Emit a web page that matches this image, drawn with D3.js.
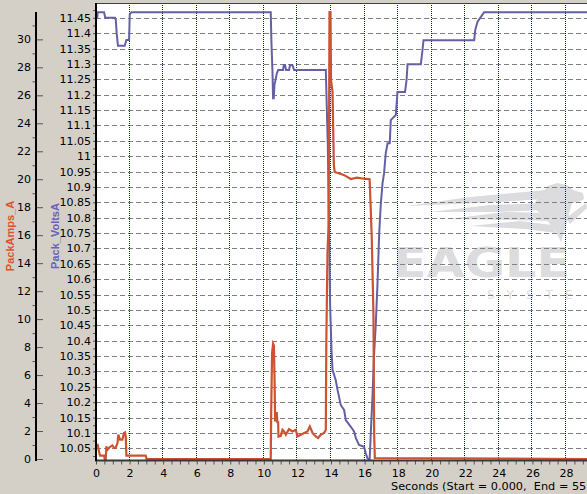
<!DOCTYPE html>
<html>
<head>
<meta charset="utf-8">
<script src="https://cdnjs.cloudflare.com/ajax/libs/d3/7.8.5/d3.min.js"></script>
<style>
    html, body { margin: 0; padding: 0; background: #d4d0c8; overflow: hidden; }
    #pack-chart svg { display: block; }
</style>
</head>
<body>
<div id="pack-chart"></div>
<script>

var voltsTime = [0, 0.08, 0.10, 0.48, 0.55, 1.13, 1.18, 1.23, 1.31, 1.71,
    1.76, 1.81, 1.97, 2.01, 2.11, 10.41, 10.45, 10.51, 10.55, 10.59,
    10.63, 10.77, 10.85, 11.14, 11.19, 11.26, 11.32, 11.50, 11.56, 11.70,
    11.80, 13.69, 13.75, 13.81, 13.95, 14.03, 14.09, 14.28, 14.39, 14.58,
    14.78, 14.88, 15.18, 15.38, 15.48, 15.67, 15.97, 16.07, 16.17, 16.30,
    16.37, 16.47, 16.57, 16.67, 16.77, 16.87, 16.97, 17.07, 17.16, 17.26,
    17.37, 17.50, 17.56, 17.66, 17.86, 17.96, 18.41, 18.50, 18.56, 19.35,
    19.45, 19.51, 22.53, 22.59, 22.73, 22.93, 23.12, 29.25];
var voltsValue = [11.450, 11.450, 11.468, 11.468, 11.450, 11.450, 11.443, 11.400, 11.359, 11.359,
    11.369, 11.378, 11.378, 11.461, 11.468, 11.468, 11.372, 11.280, 11.188, 11.188,
    11.231, 11.269, 11.280, 11.280, 11.296, 11.296, 11.280, 11.280, 11.296, 11.296,
    11.280, 11.280, 11.156, 11.036, 10.510, 10.370, 10.305, 10.272, 10.240, 10.191,
    10.175, 10.142, 10.120, 10.104, 10.083, 10.061, 10.055, 10.034, 10.018, 10.012,
    10.099, 10.218, 10.359, 10.456, 10.587, 10.749, 10.847, 10.912, 10.944, 11.009,
    11.042, 11.042, 11.117, 11.123, 11.134, 11.209, 11.209, 11.247, 11.299, 11.299,
    11.345, 11.377, 11.377, 11.410, 11.437, 11.453, 11.468, 11.468];

var ampsTime = [0, 0.10, 0.18, 0.24, 0.48, 0.52, 0.58, 0.62, 0.68, 0.77,
    0.88, 0.98, 1.07, 1.17, 1.28, 1.33, 1.43, 1.57, 1.67, 1.73,
    1.77, 1.81, 2.96, 3.02, 10.41, 10.44, 10.49, 10.55, 10.60, 10.64,
    10.67, 10.71, 10.77, 10.81, 10.85, 10.87, 11.01, 11.11, 11.20, 11.31,
    11.50, 11.70, 11.90, 12.00, 12.20, 12.40, 12.60, 12.74, 12.90, 13.09,
    13.23, 13.39, 13.59, 13.69, 13.72, 13.79, 13.85, 13.88, 13.91, 13.97,
    14.00, 14.09, 14.17, 14.22, 14.76, 15.18, 15.54, 16.07, 16.30, 16.37,
    16.43, 16.53, 16.57, 16.61, 29.25];
var ampsValue = [1.02, 1.02, 0.54, 0.24, 0.24, 0, 0, 0.90, 0.66, 0.79,
    0.90, 0.97, 0.79, 0.79, 1.14, 1.74, 1.38, 1.38, 1.86, 1.90,
    1.61, 0.24, 0.24, 0, 0, 3.76, 7.57, 8.24, 8.10, 5.43,
    2.69, 3.29, 3.29, 2.57, 2.69, 1.61, 1.66, 2.09, 1.97, 1.74,
    2.14, 1.97, 2.09, 1.61, 1.74, 1.86, 1.97, 2.33, 1.86, 1.61,
    1.50, 1.74, 1.86, 2.09, 8.29, 14.71, 16.61, 22.1, 31.95, 31.95,
    27.09, 26.26, 21.0, 20.52, 20.31, 20.02, 20.11, 20.02, 20.0, 17.8,
    15.7, 10.2, 1.86, 0.07, 0];

// Tick labels
var secondLabels = [0, 2, 4, 6, 8, 10, 12, 14, 16, 18, 20, 22, 24, 26, 28];
var ampLabels = [0, 2, 4, 6, 8, 10, 12, 14, 16, 18, 20, 22, 24, 26, 28, 30];
var voltLabels = [10.05, 10.1, 10.15, 10.2, 10.25, 10.3, 10.35, 10.4, 10.45, 10.5,
    10.55, 10.6, 10.65, 10.7, 10.75, 10.8, 10.85, 10.9, 10.95, 11,
    11.05, 11.1, 11.15, 11.2, 11.25, 11.3, 11.35, 11.4, 11.45];

var ampsColor = "#cc5230";
var voltsColor = "#6560a4";
var tickFont = "'DejaVu Sans', Verdana, sans-serif";


PackChartVis = function(_parentElement) {
    this.parentElement = _parentElement;

    this.voltsData = voltsTime.map(function(t, i) { return {t: t, v: voltsValue[i]}; });
    this.ampsData = ampsTime.map(function(t, i) { return {t: t, v: ampsValue[i]}; });

    this.initVis();
};

PackChartVis.prototype.initVis = function() {
    var vis = this;

    // plot box sits at the right, both y axes live in the left margin
    vis.margin = {top: 3, right: 0, bottom: 34, left: 96};
    vis.width = 587 - vis.margin.left - vis.margin.right;
    vis.height = 494 - vis.margin.top - vis.margin.bottom;

    vis.root = d3.select("#" + vis.parentElement).append("svg")
        .attr("width", 587)
        .attr("height", 494)
        .style("background", "#d4d0c8");

    vis.svg = vis.root.append("g")
        .attr("transform", "translate(" + vis.margin.left + "," + vis.margin.top + ")");

    vis.svg.append("clipPath")
        .attr("id", "plot-clip")
        .append("rect")
        .attr("width", vis.width)
        .attr("height", vis.height);

    // Scales
    vis.x = d3.scaleLinear().domain([0, 29.25]).range([0, vis.width]);
    vis.yVolts = d3.scaleLinear().domain([10.012, 11.498]).range([vis.height, 0]);
    vis.yAmps = d3.scaleLinear().domain([0, 32.6]).range([vis.height - 1, 0]);

    // White plot area
    vis.svg.append("rect")
        .attr("width", vis.width)
        .attr("height", vis.height)
        .attr("fill", "#ffffff");

    vis.plot = vis.svg.append("g").attr("clip-path", "url(#plot-clip)");

    vis.drawWatermark();

    // Grid
    vis.plot.append("g")
        .attr("class", "grid-h")
        .selectAll("line")
        .data(voltLabels)
        .enter().append("line")
        .attr("x1", 0)
        .attr("x2", vis.width)
        .attr("y1", function(d) { return Math.round(vis.yVolts(d)) + 0.5; })
        .attr("y2", function(d) { return Math.round(vis.yVolts(d)) + 0.5; })
        .attr("stroke", "#808080")
        .attr("stroke-dasharray", "5,3");

    vis.plot.append("g")
        .attr("class", "grid-v")
        .selectAll("line")
        .data(secondLabels.slice(1))
        .enter().append("line")
        .attr("x1", function(d) { return Math.round(vis.x(d)) - 0.5; })
        .attr("x2", function(d) { return Math.round(vis.x(d)) - 0.5; })
        .attr("y1", 0)
        .attr("y2", vis.height)
        .attr("stroke", "#0000ff")
        .attr("stroke-dasharray", "1,1");

    // Lines
    vis.voltsLine = d3.line()
        .x(function(d) { return vis.x(d.t); })
        .y(function(d) { return vis.yVolts(d.v); })
        .curve(d3.curveLinear);
    vis.ampsLine = d3.line()
        .x(function(d) { return vis.x(d.t); })
        .y(function(d) { return vis.yAmps(d.v); })
        .curve(d3.curveLinear);

    vis.plot.append("path")
        .datum(vis.voltsData)
        .attr("d", vis.voltsLine)
        .attr("fill", "none")
        .attr("stroke", voltsColor)
        .attr("stroke-width", 2);

    vis.plot.append("path")
        .datum(vis.ampsData)
        .attr("d", vis.ampsLine)
        .attr("fill", "none")
        .attr("stroke", ampsColor)
        .attr("stroke-width", 2.2);

    // Frame
    vis.svg.append("line")
        .attr("x1", 0).attr("x2", vis.width)
        .attr("y1", 0.5).attr("y2", 0.5)
        .attr("stroke", "#404040");

    vis.drawAxes();
};

PackChartVis.prototype.drawAxes = function() {
    var vis = this;

    // x axis - small tick every half second, label every two
    vis.xAxis = d3.axisBottom(vis.x)
        .tickValues(d3.range(0, 29.5, 0.5))
        .tickSize(4)
        .tickPadding(5)
        .tickFormat(function(d) { return secondLabels.indexOf(d) >= 0 ? d : ""; });
    vis.xAxisGroup = vis.svg.append("g")
        .attr("class", "x-axis axis")
        .attr("transform", "translate(0," + (vis.height + 0.5) + ")")
        .call(vis.xAxis);
    vis.xAxisGroup.select(".domain").remove();
    vis.xAxisGroup.selectAll(".tick line").attr("stroke", "#555");

    vis.svg.append("line")
        .attr("x1", -1).attr("x2", vis.width)
        .attr("y1", vis.height + 0.5).attr("y2", vis.height + 0.5)
        .attr("stroke", "#383838")
        .attr("stroke-width", 2);

    // the window only shows the start of this caption
    vis.svg.append("text")
        .attr("class", "axis-label x-axis-label")
        .attr("x", 391 - vis.margin.left)
        .attr("y", 490 - vis.margin.top)
        .attr("xml:space", "preserve")
        .style("white-space", "pre")
        .style("font-family", tickFont)
        .style("font-size", "11.3px")
        .attr("fill", "#000")
        .text("Seconds (Start = 0.000,  End = 55");

    // volts axis on the plot edge
    vis.yVoltsMinor = d3.axisLeft(vis.yVolts)
        .tickValues(voltLabels.map(function(d) { return d + 0.025; }).concat([10.025]))
        .tickSize(3)
        .tickFormat("");
    vis.yVoltsAxis = d3.axisLeft(vis.yVolts)
        .tickValues(voltLabels)
        .tickSize(3)
        .tickPadding(2)
        .tickFormat(d3.format("~g"));

    vis.svg.append("g").attr("class", "y-axis volts minor").call(vis.yVoltsMinor)
        .select(".domain").remove();
    vis.yVoltsGroup = vis.svg.append("g").attr("class", "y-axis volts").call(vis.yVoltsAxis);
    vis.yVoltsGroup.select(".domain").remove();

    vis.svg.append("line")
        .attr("x1", 0).attr("x2", 0)
        .attr("y1", 0).attr("y2", vis.height + 1)
        .attr("stroke", "#000")
        .attr("stroke-width", 2);

    // amps axis further left, major ticks point right
    vis.ampsOffset = 36 - vis.margin.left;
    vis.yAmpsMinor = d3.axisLeft(vis.yAmps)
        .tickValues(d3.range(1, 33, 2))
        .tickSize(3.5)
        .tickFormat("");
    vis.yAmpsAxis = d3.axisLeft(vis.yAmps)
        .tickValues(ampLabels)
        .tickSizeInner(-7)
        .tickSizeOuter(0)
        .tickPadding(5);

    vis.svg.append("g").attr("class", "y-axis amps minor")
        .attr("transform", "translate(" + vis.ampsOffset + ",0)")
        .call(vis.yAmpsMinor)
        .select(".domain").remove();
    vis.yAmpsGroup = vis.svg.append("g").attr("class", "y-axis amps")
        .attr("transform", "translate(" + vis.ampsOffset + ",0)")
        .call(vis.yAmpsAxis);
    vis.yAmpsGroup.select(".domain").remove();

    vis.svg.append("line")
        .attr("x1", vis.ampsOffset).attr("x2", vis.ampsOffset)
        .attr("y1", 9).attr("y2", vis.height + 1)
        .attr("stroke", "#000")
        .attr("stroke-width", 2);

    vis.svg.selectAll(".axis, .y-axis")
        .attr("font-family", tickFont)
        .attr("font-size", 11)
        .style("color", "#000");
    vis.svg.selectAll(".minor .tick line, .y-axis .tick line").attr("stroke", "#555");

    // axis titles
    vis.svg.append("text")
        .attr("class", "axis-label")
        .attr("transform", "translate(" + (13.5 - vis.margin.left) + "," + (236 - vis.margin.top) + ") rotate(-90)")
        .style("text-anchor", "middle")
        .style("font-family", "'Liberation Sans', Arial, sans-serif")
        .style("font-weight", "bold")
        .style("font-size", "11px")
        .attr("fill", "#d9562c")
        .text("PackAmps_A");

    vis.svg.append("text")
        .attr("class", "axis-label")
        .attr("transform", "translate(" + (58.5 - vis.margin.left) + "," + (236 - vis.margin.top) + ") rotate(-90)")
        .style("text-anchor", "middle")
        .style("font-family", "'Liberation Sans', Arial, sans-serif")
        .style("font-weight", "bold")
        .style("font-size", "11px")
        .attr("fill", "#6a62b8")
        .text("Pack_VoltsA");
};

PackChartVis.prototype.drawWatermark = function() {
    var vis = this;
    var ox = -vis.margin.left, oy = -vis.margin.top;

    var logo = vis.plot.append("g")
        .attr("class", "watermark")
        .attr("transform", "translate(" + ox + "," + oy + ")")
        .attr("fill", "#dcdcde");

    // eagle head and body
    logo.append("path")
        .attr("d", "M540,196 L548,186 L557,183 L567,185 L573,190 L583,193 L584,199 L578,202 L572,203 " +
            "L569,214 L566,226 L561,242 L556,232 L547,220 L532,206 Z");
    // wing streaks
    logo.append("path")
        .attr("d", "M406,206 L470,197 L545,190 L546,199 L480,203 Z");
    logo.append("path")
        .attr("d", "M430,212 L490,205 L548,203 L548,210 L495,212 Z");
    logo.append("path")
        .attr("d", "M448,219 L505,212 L550,213 L552,221 L510,220 Z");
    logo.append("path")
        .attr("d", "M470,226 L520,221 L552,225 L556,233 L525,229 Z");
    logo.append("path")
        .attr("d", "M566,218 L586,203 L587,208 L570,224 Z");

    logo.append("text")
        .attr("x", 393)
        .attr("y", 277)
        .attr("textLength", 177)
        .attr("lengthAdjust", "spacingAndGlyphs")
        .style("font-family", "'DejaVu Sans', sans-serif")
        .style("font-weight", "bold")
        .style("font-size", "40px")
        .text("EAGLE");

    // only the start of the word fits inside the window
    logo.append("text")
        .attr("x", 487)
        .attr("y", 299)
        .style("font-family", "'DejaVu Sans', sans-serif")
        .style("font-size", "12px")
        .style("letter-spacing", "12px")
        .text("SYSTE");
};

var packChart = new PackChartVis("pack-chart");

</script>
</body>
</html>
